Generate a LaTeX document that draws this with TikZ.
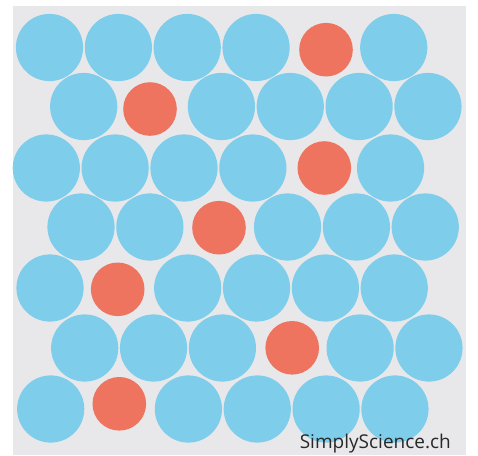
\documentclass[tikz,border=0pt]{standalone}
\usepackage{xcolor}
\usepackage{fontspec}
\setmainfont{Open Sans}
\usepackage{tikz}
\definecolor{skyblue}{RGB}{125,205,235}
\definecolor{salmon}{RGB}{238,116,95}
\definecolor{paper}{RGB}{232,232,234}
\definecolor{ink}{RGB}{40,40,40}

\begin{document}
\begin{tikzpicture}[
  x=1pt, y=-1pt,
  bluedisc/.style={fill=skyblue},
  reddisc/.style={fill=salmon},
  credit/.style={font=\fontsize{19}{22}\selectfont, text=ink, inner sep=0pt}
]
\useasboundingbox (0,0) rectangle (478,455);
\fill[paper] (13,6) rectangle (466,455);

% big (blue) discs, row by row; the gap is where the small one sits
\foreach \y/\xo/\gap in {47.5/49.5/4, 106.5/83.7/1, 168/46.3/4, 227/81/2,
                         288/50/1, 348/84.7/3, 409/50.7/1}{
  \foreach \i in {0,...,5}{
    \ifnum\i=\gap\else
      \fill[bluedisc] (\xo+68.85*\i, \y) circle (33.6);
    \fi
  }
}

% small (red) discs
\foreach \x/\y in {326/49.7, 150/109, 324.3/168, 219/227.7,
                   117.7/289.3, 292.2/347.8, 119.3/403.8}{
  \fill[reddisc] (\x,\y) circle (26.8);
}

\node[credit, anchor=base east] (credit) at (451,448) {SimplyScience.ch};

\end{tikzpicture}
\end{document}
